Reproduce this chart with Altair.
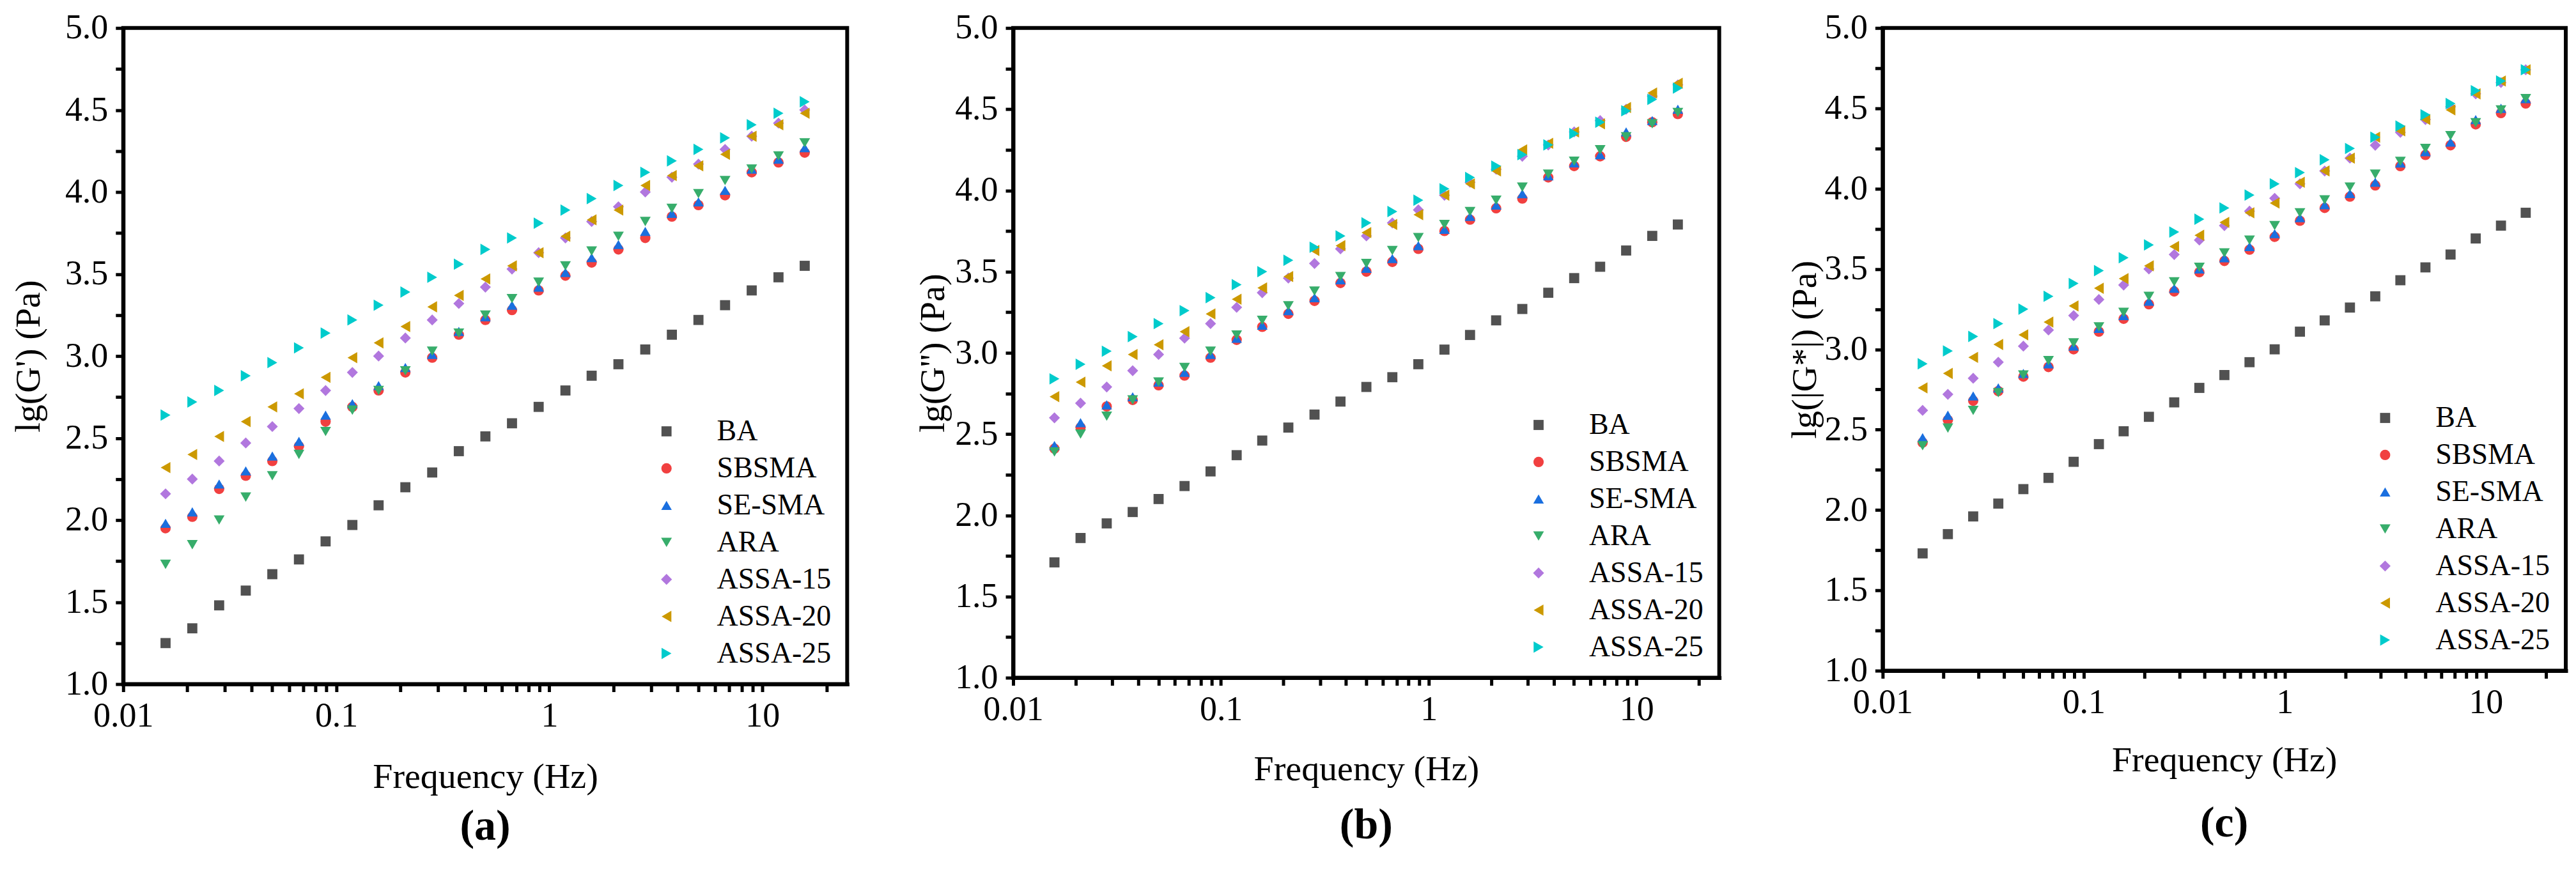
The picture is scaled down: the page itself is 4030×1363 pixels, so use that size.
import altair as alt
import pandas as pd

FONT = "Liberation Serif"

# frequency sweep (Hz)
freq = [0.0158, 0.0211, 0.0282, 0.0376, 0.0501, 0.0668, 0.0891, 0.119, 0.158,
        0.211, 0.282, 0.376, 0.501, 0.668, 0.891, 1.19, 1.58, 2.11, 2.82,
        3.76, 5.01, 6.68, 8.91, 11.9, 15.8]

samples = ["BA", "SBSMA", "SE-SMA", "ARA", "ASSA-15", "ASSA-20", "ASSA-25"]
colors = ["#515151", "#F14040", "#1A6FDF", "#37AD6B", "#B177DE", "#CC9900", "#00CBCC"]
shapes = ["square", "circle", "triangle-up", "triangle-down", "diamond",
          "triangle-left", "triangle-right"]
sizes = [250, 320, 450, 450, 480, 450, 450]

# (a) lg(G')
a_ba = [1.25, 1.34, 1.48, 1.57, 1.67, 1.76, 1.87, 1.97, 2.09, 2.20, 2.29, 2.42, 2.51,
        2.59, 2.69, 2.79, 2.88, 2.95, 3.04, 3.13, 3.22, 3.31, 3.40, 3.48, 3.55]
a_sbsma = [1.95, 2.02, 2.19, 2.27, 2.36, 2.45, 2.60, 2.69, 2.79, 2.90, 2.99, 3.13, 3.22,
           3.28, 3.40, 3.49, 3.57, 3.65, 3.72, 3.85, 3.92, 3.98, 4.12, 4.18, 4.24]
a_sesma = [1.98, 2.05, 2.22, 2.30, 2.39, 2.48, 2.64, 2.71, 2.82, 2.93, 3.01, 3.15, 3.24,
           3.31, 3.42, 3.51, 3.60, 3.68, 3.76, 3.87, 3.94, 4.01, 4.14, 4.20, 4.27]
a_ara = [1.73, 1.85, 2.00, 2.14, 2.27, 2.40, 2.54, 2.67, 2.79, 2.91, 3.03, 3.14, 3.25,
         3.35, 3.45, 3.55, 3.64, 3.73, 3.82, 3.90, 3.99, 4.07, 4.14, 4.22, 4.30]
a_assa15 = [2.16, 2.25, 2.36, 2.47, 2.57, 2.68, 2.79, 2.90, 3.00, 3.11, 3.22, 3.32, 3.42,
            3.53, 3.63, 3.72, 3.82, 3.91, 4.00, 4.09, 4.17, 4.26, 4.34, 4.42, 4.50]
a_assa20 = [2.32, 2.40, 2.51, 2.60, 2.69, 2.77, 2.87, 2.99, 3.08, 3.18, 3.30, 3.37, 3.47,
            3.55, 3.63, 3.73, 3.83, 3.89, 4.04, 4.10, 4.16, 4.23, 4.34, 4.41, 4.48]
a_assa25 = [2.64, 2.72, 2.79, 2.88, 2.96, 3.05, 3.14, 3.22, 3.31, 3.39, 3.48, 3.56, 3.65,
            3.72, 3.81, 3.89, 3.96, 4.04, 4.12, 4.19, 4.26, 4.33, 4.41, 4.48, 4.55]

# (b) lg(G'')
b_ba = [1.71, 1.86, 1.95, 2.02, 2.10, 2.18, 2.27, 2.37, 2.46, 2.54, 2.62, 2.70, 2.79,
        2.85, 2.93, 3.02, 3.11, 3.20, 3.27, 3.37, 3.46, 3.53, 3.63, 3.72, 3.79]
b_sbsma = [2.41, 2.54, 2.67, 2.71, 2.80, 2.86, 2.97, 3.08, 3.16, 3.24, 3.32, 3.43, 3.50,
           3.56, 3.64, 3.75, 3.82, 3.89, 3.95, 4.08, 4.15, 4.21, 4.33, 4.42, 4.47]
b_sesma = [2.43, 2.57, 2.68, 2.73, 2.82, 2.88, 2.99, 3.09, 3.17, 3.26, 3.34, 3.45, 3.52,
           3.58, 3.66, 3.76, 3.84, 3.91, 3.98, 4.09, 4.17, 4.22, 4.36, 4.43, 4.50]
b_ara = [2.39, 2.50, 2.61, 2.71, 2.82, 2.91, 3.01, 3.11, 3.20, 3.29, 3.38, 3.47, 3.55,
         3.63, 3.71, 3.79, 3.87, 3.94, 4.02, 4.10, 4.18, 4.25, 4.33, 4.41, 4.48]
b_assa15 = [2.60, 2.69, 2.79, 2.89, 2.99, 3.09, 3.18, 3.28, 3.37, 3.46, 3.55, 3.64, 3.72,
            3.80, 3.88, 3.97, 4.05, 4.13, 4.21, 4.28, 4.36, 4.43, 4.50, 4.58, 4.65]
b_assa20 = [2.73, 2.82, 2.92, 2.99, 3.05, 3.13, 3.24, 3.33, 3.40, 3.47, 3.63, 3.66, 3.74,
            3.79, 3.85, 3.97, 4.04, 4.12, 4.25, 4.29, 4.36, 4.41, 4.51, 4.60, 4.66]
b_assa25 = [2.84, 2.93, 3.01, 3.10, 3.18, 3.26, 3.34, 3.42, 3.50, 3.57, 3.65, 3.72, 3.80,
            3.87, 3.94, 4.01, 4.08, 4.15, 4.22, 4.28, 4.35, 4.42, 4.49, 4.56, 4.63]

# (c) lg(|G*|)
c_ba = [1.73, 1.85, 1.96, 2.04, 2.13, 2.20, 2.30, 2.41, 2.49, 2.58, 2.67, 2.76, 2.84,
        2.92, 3.00, 3.11, 3.18, 3.26, 3.33, 3.43, 3.51, 3.59, 3.69, 3.77, 3.85]
c_sbsma = [2.42, 2.56, 2.68, 2.74, 2.83, 2.89, 3.00, 3.11, 3.19, 3.28, 3.36, 3.48, 3.55,
           3.62, 3.70, 3.80, 3.88, 3.95, 4.02, 4.14, 4.21, 4.27, 4.40, 4.47, 4.53]
c_sesma = [2.45, 2.59, 2.71, 2.76, 2.85, 2.91, 3.02, 3.13, 3.21, 3.30, 3.38, 3.50, 3.57,
           3.64, 3.72, 3.82, 3.90, 3.97, 4.04, 4.16, 4.23, 4.29, 4.43, 4.50, 4.56]
c_ara = [2.40, 2.51, 2.62, 2.73, 2.84, 2.93, 3.04, 3.14, 3.23, 3.33, 3.42, 3.51, 3.60,
         3.68, 3.77, 3.85, 3.93, 4.01, 4.09, 4.17, 4.25, 4.33, 4.41, 4.49, 4.56]
c_assa15 = [2.62, 2.72, 2.82, 2.92, 3.02, 3.12, 3.21, 3.31, 3.40, 3.50, 3.59, 3.68, 3.77,
            3.86, 3.94, 4.03, 4.11, 4.19, 4.27, 4.35, 4.43, 4.51, 4.59, 4.66, 4.74]
c_assa20 = [2.76, 2.85, 2.95, 3.03, 3.09, 3.17, 3.27, 3.38, 3.44, 3.52, 3.64, 3.71, 3.79,
            3.85, 3.91, 4.04, 4.11, 4.19, 4.32, 4.36, 4.43, 4.49, 4.59, 4.67, 4.74]
c_assa25 = [2.91, 2.99, 3.08, 3.16, 3.25, 3.33, 3.41, 3.49, 3.57, 3.65, 3.73, 3.81, 3.88,
            3.96, 4.03, 4.10, 4.18, 4.25, 4.32, 4.39, 4.46, 4.53, 4.61, 4.67, 4.74]

# tick positions (labels only on the major ones)
x_ticks = [0.01, 0.02, 0.03, 0.04, 0.05, 0.06, 0.07, 0.08, 0.09,
           0.1, 0.2, 0.3, 0.4, 0.5, 0.6, 0.7, 0.8, 0.9,
           1, 2, 3, 4, 5, 6, 7, 8, 9, 10, 20]
y_ticks = [1.0, 1.25, 1.5, 1.75, 2.0, 2.25, 2.5, 2.75, 3.0, 3.25, 3.5, 3.75,
           4.0, 4.25, 4.5, 4.75, 5.0]
X_LABELS = "indexof([0.01, 0.1, 1, 10], datum.value) >= 0 ? datum.label : ''"
Y_LABELS = "indexof([1, 1.5, 2, 2.5, 3, 3.5, 4, 4.5, 5], datum.value) >= 0 ? datum.label : ''"


def long_table(series):
    rows = []
    for name, vals in zip(samples, series):
        for f, v in zip(freq, vals):
            rows.append({"freq": f, "val": v, "sample": name})
    return pd.DataFrame(rows)


def panel(df, ytitle, tag, w, h, ytitle_pad, xtitle_pad, tag_offset):
    legend = alt.Legend(title=None, orient="bottom-right", offset=25,
                        labelFont=FONT, labelFontSize=46, labelColor="black", labelLimit=600,
                        labelOffset=56, rowPadding=12)
    frame = dict(domain=True, domainWidth=6, domainColor="black", domainCap="square",
                 ticks=True, tickSize=12, tickWidth=5, tickColor="black", grid=False,
                 labelFont=FONT, labelFontSize=54, labelColor="black", labelOverlap=False,
                 labelFlush=False, titleFont=FONT, titleFontSize=56,
                 titleFontWeight="normal", titleColor="black")

    return alt.Chart(df).mark_point(filled=True, opacity=1).encode(
        x=alt.X("freq:Q", title="Frequency (Hz)",
                scale=alt.Scale(type="log", domain=[0.01, 25], nice=False),
                axis=alt.Axis(orient="bottom", values=x_ticks, format="~g",
                              labelExpr=X_LABELS, labelPadding=11,
                              titlePadding=xtitle_pad, **frame)),
        y=alt.Y("val:Q", title=ytitle,
                scale=alt.Scale(domain=[1, 5], nice=False, zero=False),
                axis=alt.Axis(orient="left", values=y_ticks, format=".1f",
                              labelExpr=Y_LABELS, labelPadding=12,
                              titlePadding=ytitle_pad, **frame)),
        color=alt.Color("sample:N", scale=alt.Scale(domain=samples, range=colors), legend=legend),
        shape=alt.Shape("sample:N", scale=alt.Scale(domain=samples, range=shapes), legend=legend),
        size=alt.Size("sample:N", scale=alt.Scale(domain=samples, range=sizes), legend=legend),
    ).properties(
        width=w, height=h,
        view=alt.ViewBackground(stroke="black", strokeWidth=6),
        title=alt.TitleParams(tag, orient="bottom", font=FONT, fontSize=68,
                              fontWeight="bold", color="black", offset=tag_offset),
    )


pa = panel(long_table([a_ba, a_sbsma, a_sesma, a_ara, a_assa15, a_assa20, a_assa25]),
           "lg(G') (Pa)", "(a)", 1134, 1028, 28, 41, 17)
pb = panel(long_table([b_ba, b_sbsma, b_sesma, b_ara, b_assa15, b_assa20, b_assa25]),
           "lg(G'') (Pa)", "(b)", 1106, 1018, 5, 39, 27)
pc = panel(long_table([c_ba, c_sbsma, c_sesma, c_ara, c_assa15, c_assa20, c_assa25]),
           "lg(|G*|) (Pa)", "(c)", 1070, 1007, 1, 36, 38)

chart = alt.hconcat(pa, pb, pc, spacing=100).resolve_scale(
    color="independent", shape="independent", size="independent"
).configure_view(
    stroke="black", strokeWidth=6
)

chart.save("out.html", embed_options={"renderer": "svg", "actions": False})
